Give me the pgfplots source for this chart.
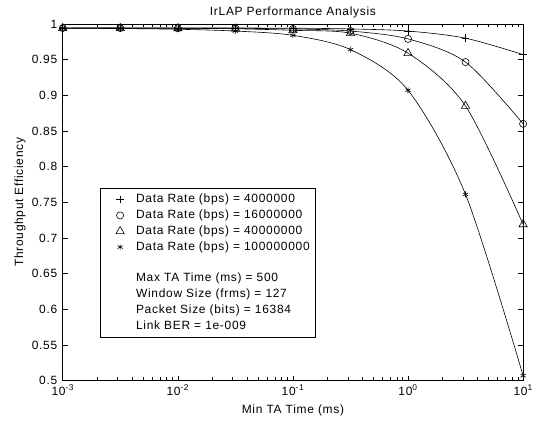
\documentclass[border=0pt]{standalone}
\usepackage{fontspec}
\setmainfont[LetterSpace=6]{Liberation Sans}
\usepackage{pgfplots}
\pgfplotsset{compat=1.18}

\newcommand{\fs}{\fontsize{12bp}{14bp}\selectfont}

\begin{document}
\begin{tikzpicture}
\begin{axis}[
  at={(0,0)}, anchor=south west,
  scale only axis, width=462bp, height=358bp,
  xmode=log, log basis x=10,
  xmin=1e-3, xmax=10, ymin=0.5, ymax=1,
  xtick={1e-3,1e-2,1e-1,1,10},
  xticklabels={10\textsuperscript{-3},10\textsuperscript{-2},10\textsuperscript{-1},10\textsuperscript{0},10\textsuperscript{1}},
  minor xtick={2e-3,3e-3,4e-3,5e-3,6e-3,7e-3,8e-3,9e-3,
               2e-2,3e-2,4e-2,5e-2,6e-2,7e-2,8e-2,9e-2,
               2e-1,3e-1,4e-1,5e-1,6e-1,7e-1,8e-1,9e-1,
               2,3,4,5,6,7,8,9},
  ytick={0.5,0.55,0.6,0.65,0.7,0.75,0.8,0.85,0.9,0.95,1},
  yticklabel style={/pgf/number format/fixed, /pgf/number format/precision=2, /pgf/number format/assume math mode=true},
  tick label style={font=\fs},
  xticklabel style={yshift=-1bp},
  yticklabel style={xshift=-2bp},
  tick align=inside,
  major tick length=5bp, minor tick length=3.5bp,
  tick style={black, line width=0.6bp},
  axis line style={black, line width=0.6bp},
  title={IrLAP Performance Analysis},
  title style={font=\fs, at={(0.5,1)}, anchor=south, yshift=-4bp},
  xlabel={Min TA Time (ms)},
  xlabel style={font=\fs, at={(axis description cs:0.5,-0.084)}, anchor=center},
  ylabel={Throughput Efficiency},
  ylabel style={font=\fs, at={(axis description cs:-0.093,0.5)}, anchor=center},
  legend style={at={(axis description cs:0.08,0.539)}, anchor=north west,
    draw=black, line width=0.6bp, font=\fs, row sep=0pt, column sep=0pt,
    inner xsep=4bp, inner ysep=3bp,
    nodes={font=\fs, inner sep=1.7bp, text height=9.2bp, text depth=3.3bp},
    column 2/.style={nodes={text width=194bp, align=left}}},
  legend cell align=left,
  legend image code/.code={
    \path (0bp,0bp) (30bp,0bp);
    \draw[#1, only marks] plot coordinates {(16bp,0bp)};},
]
\addplot[black, line width=0.6bp, smooth, tension=0.5, mark=+, mark size=3.7bp, forget plot] coordinates {
  (0.001,0.9945) (0.00316,0.9945) (0.01,0.9945) (0.0316,0.9943) (0.1,0.994)
  (0.316,0.993) (1,0.990) (3.16,0.980) (10,0.957)};
\addplot[black, line width=0.6bp, smooth, tension=0.5, mark=o, mark size=3.6bp, forget plot] coordinates {
  (0.001,0.9942) (0.00316,0.9942) (0.01,0.994) (0.0316,0.9938) (0.1,0.993)
  (0.316,0.990) (1,0.979) (3.16,0.9465) (10,0.860)};
\addplot[black, line width=0.6bp, smooth, tension=0.5, mark=triangle, mark size=4.8bp, forget plot] coordinates {
  (0.001,0.994) (0.00316,0.994) (0.01,0.9938) (0.0316,0.9932) (0.1,0.991)
  (0.316,0.987) (1,0.959) (3.16,0.885) (10,0.719)};
\addplot[black, line width=0.6bp, smooth, tension=0.5, mark=asterisk, mark size=3bp, forget plot] coordinates {
  (0.001,0.9938) (0.00316,0.9935) (0.01,0.9925) (0.0316,0.990) (0.1,0.984)
  (0.316,0.964) (1,0.907) (3.16,0.761) (10,0.507)};

\addlegendimage{black, line width=0.6bp, mark=+, mark size=3.7bp}
\addlegendentry{Data Rate (bps) = 4000000}
\addlegendimage{black, line width=0.6bp, mark=o, mark size=3.6bp}
\addlegendentry{Data Rate (bps) = 16000000}
\addlegendimage{black, line width=0.6bp, mark=triangle, mark size=4.8bp}
\addlegendentry{Data Rate (bps) = 40000000}
\addlegendimage{black, line width=0.6bp, mark=asterisk, mark size=3bp}
\addlegendentry{Data Rate (bps) = 100000000}
\addlegendimage{draw=none, mark=none}
\addlegendentry{}
\addlegendimage{draw=none, mark=none}
\addlegendentry{Max TA Time (ms) = 500}
\addlegendimage{draw=none, mark=none}
\addlegendentry{Window Size (frms) = 127}
\addlegendimage{draw=none, mark=none}
\addlegendentry{Packet Size (bits) = 16384}
\addlegendimage{draw=none, mark=none}
\addlegendentry{Link BER = 1e-009}
\end{axis}
\path (-63bp,-51bp) rectangle (473bp,382bp);
\end{tikzpicture}
\end{document}
